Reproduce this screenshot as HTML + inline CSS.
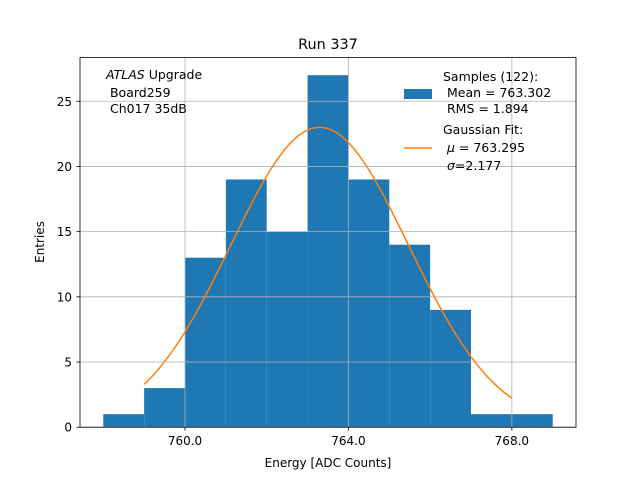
<!DOCTYPE html>
<html><head><meta charset="utf-8"><style>
body{margin:0;background:#fff}
svg text{font-family:"DejaVu Sans","Liberation Sans",sans-serif;fill:#000;white-space:pre}
</style></head><body>
<svg id="chart" width="640" height="480" xmlns="http://www.w3.org/2000/svg" xml:space="preserve">
<rect width="640" height="480" fill="#fff"/>
<g id="bars"></g>
<g id="grid"></g>
<path id="fit" fill="none" stroke="#ff7f0e" stroke-width="1.5"/>
<rect x="80" y="57.6" width="496" height="369.6" fill="none" stroke="#000" stroke-width="0.8"/>
<g id="ticks"></g>
<text x="328" y="49" font-size="14.4" text-anchor="middle">Run 337</text>
<text x="328" y="467" font-size="12" text-anchor="middle">Energy [ADC Counts]</text>
<text transform="translate(44,242) rotate(-90)" font-size="12" text-anchor="middle">Entries</text>
<g font-size="12.5">
<text x="106" y="79"><tspan font-style="italic">ATLAS</tspan> Upgrade</text>
<text x="106" y="97"> Board259</text>
<text x="106" y="113"> Ch017 35dB</text>
</g>
<g font-size="12.5">
<rect x="404" y="89" width="28" height="10" fill="#1f77b4"/>
<text x="443" y="81">Samples (122):</text>
<text x="443" y="97"> Mean = 763.302</text>
<text x="443" y="113"> RMS = 1.894</text>
<line x1="404" y1="148" x2="432" y2="148" stroke="#ff7f0e" stroke-width="1.5"/>
<text x="443" y="134">Gaussian Fit:</text>
<text x="443" y="152"> <tspan font-style="italic">μ</tspan> = 763.295</text>
<text x="443" y="170"> <tspan font-style="italic">σ</tspan>=2.177</text>
</g>
</svg>
<script>
const binEdges=[758,759,760,761,762,763,764,765,766,767,768];
const counts=[1,3,13,19,15,27,19,14,9,1,1];
const xTicks=[760,764,768];
const yTicks=[0,5,10,15,20,25];
const fitMu=763.295, fitSigma=2.177, fitAmp=23.0, fitRange=[759,768];
const X0=757.43,X1=769.57,Y0=0,Y1=28.35;
const px=v=>80+(v-X0)/(X1-X0)*496;
const py=v=>427.2-(v-Y0)/(Y1-Y0)*369.6;
const NS="http://www.w3.org/2000/svg";
const bars=document.getElementById('bars');
counts.forEach((c,i)=>{
 const r=document.createElementNS(NS,'rect');
 r.setAttribute('x',px(binEdges[i]));r.setAttribute('width',px(binEdges[i]+1)-px(binEdges[i]));
 r.setAttribute('y',py(c));r.setAttribute('height',py(0)-py(c));r.setAttribute('fill','#1f77b4');
 
 
 bars.appendChild(r);
});
const grid=document.getElementById('grid'),ticks=document.getElementById('ticks');
function ln(p,x1,y1,x2,y2,s,w){const l=document.createElementNS(NS,'line');l.setAttribute('x1',x1);l.setAttribute('y1',y1);l.setAttribute('x2',x2);l.setAttribute('y2',y2);l.setAttribute('stroke',s);l.setAttribute('stroke-width',w);p.appendChild(l);return l;}
function tx(p,x,y,t,a){const e=document.createElementNS(NS,'text');e.setAttribute('x',x);e.setAttribute('y',y);e.setAttribute('font-size','12');e.setAttribute('text-anchor',a);e.textContent=t;p.appendChild(e);return e;}
xTicks.forEach(v=>{const x=px(v);
 const g=ln(grid,x,57.6,x,427.2,'#b0b0b0',0.8);
 
 
 ln(ticks,x,427.2,x,430.7,'#000',0.8);
 const t=tx(ticks,x,445,v.toFixed(1),'middle');
 
 
});
yTicks.forEach(v=>{const y=py(v);
 const g=ln(grid,80,y,576,y,'#b0b0b0',0.8);
 
 
 ln(ticks,76.5,y,80,y,'#000',0.8);
 const t=tx(ticks,72,y+4.5,String(v),'end');
 
 
});
let d='';
for(let i=0;i<=200;i++){const x=fitRange[0]+(fitRange[1]-fitRange[0])*i/200;
 const y=fitAmp*Math.exp(-((x-fitMu)**2)/(2*fitSigma*fitSigma));
 d+=(i?'L':'M')+px(x).toFixed(2)+','+py(y).toFixed(2);}
document.getElementById('fit').setAttribute('d',d);
</script>
</body></html>
